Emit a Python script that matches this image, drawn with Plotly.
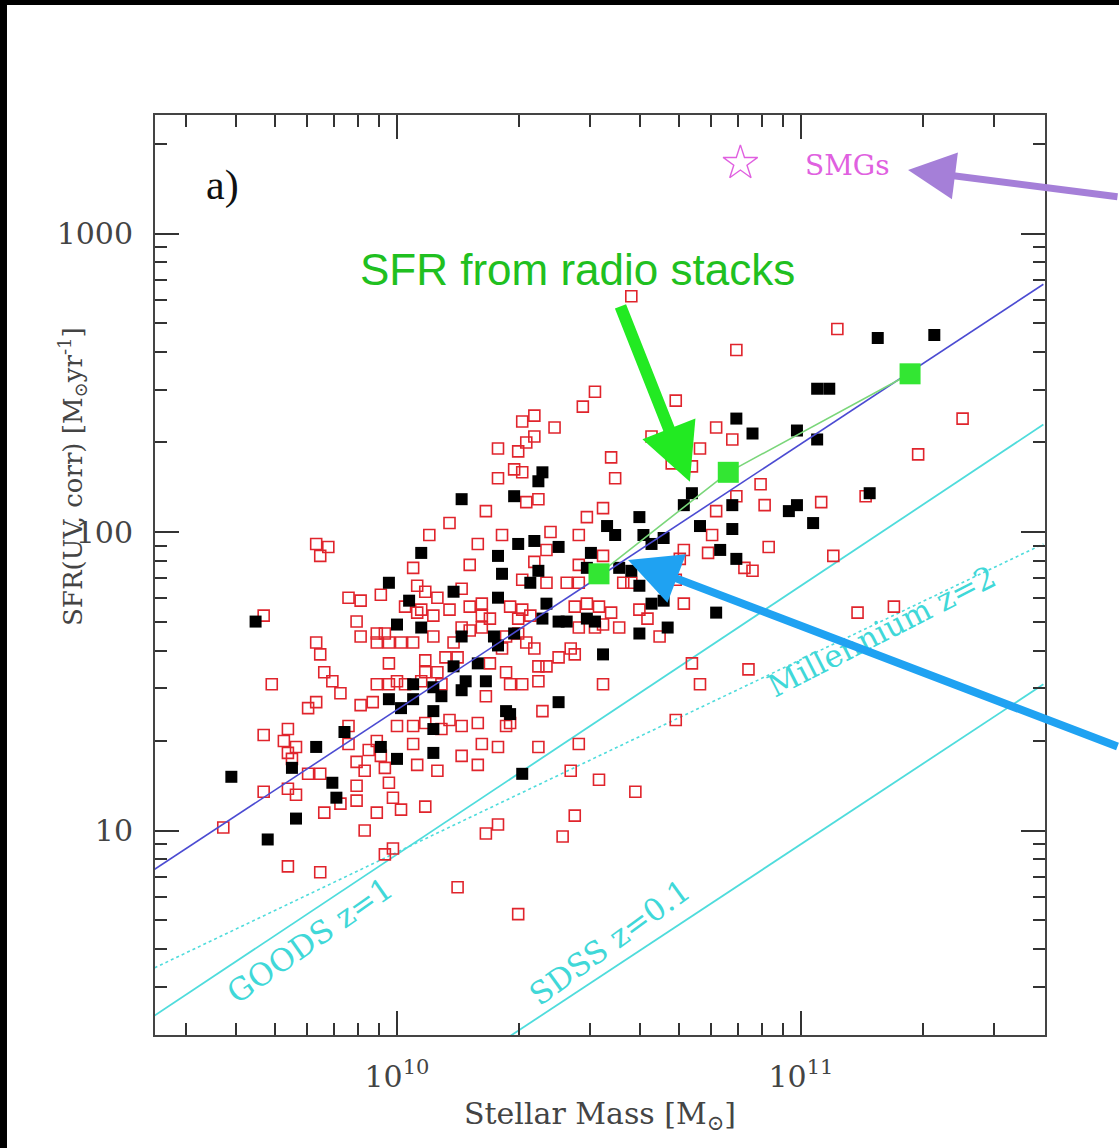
import plotly.graph_objects as go

# ---- data (log10 values) ----
RED_LOGM = [10.49, 10.46, 10.69, 10.34, 10.31, 10.39, 10.34, 10.32, 10.25, 10.30,
            10.53, 10.63, 10.79, 10.83, 10.75, 10.68, 10.73, 10.25, 10.29, 10.31,
            10.54, 10.90, 10.84, 10.91, 10.32, 10.35, 10.22, 10.51, 10.47, 10.79,
            10.13, 10.08, 10.26, 10.38, 10.45, 10.20, 10.37, 10.78, 10.92, 10.71,
            10.77, 10.51, 10.45, 10.18, 10.34, 10.70, 10.86, 10.88, 10.56, 10.58,
            10.69, 10.42, 10.45, 10.31, 10.37, 10.16, 10.07, 10.10, 10.21, 10.18,
            10.28, 10.31, 10.44, 10.47, 10.50, 10.53, 10.60, 10.62, 10.71, 10.06,
            10.13, 10.09, 10.21, 10.23, 10.30, 10.33, 10.51, 10.55, 10.45, 10.30,
            10.27, 10.21, 10.18, 10.16, 10.09, 10.14, 10.49, 10.65, 10.32, 10.34,
            10.26, 10.43, 10.44, 10.40, 10.07, 10.12, 10.15, 10.23, 10.35, 10.37,
            10.27, 10.10, 10.07, 10.73, 10.87, 9.99, 9.97, 10.15, 10.30, 10.22,
            10.25, 10.41, 10.44, 10.43, 10.50, 10.59, 10.45, 10.35, 10.69, 10.25,
            10.21, 10.16, 10.20, 10.10, 10.05, 10.04, 9.98, 9.99, 10.01, 10.07,
            10.00, 10.04, 10.07, 10.11, 10.13, 10.20, 10.27, 10.28, 10.36, 10.22,
            10.28, 10.31, 10.35, 10.51, 10.75, 10.16, 10.11, 10.00, 10.02, 10.06,
            9.96, 9.97, 9.80, 9.83, 9.81, 10.04, 9.67, 9.90, 9.88, 9.91,
            9.96, 10.05, 10.02, 10.05, 9.91, 9.95, 9.97, 9.95, 9.98, 10.01,
            10.04, 9.80, 9.81, 9.98, 9.82, 9.84, 9.69, 9.86, 9.95, 9.98,
            9.91, 9.94, 9.78, 9.80, 9.88, 9.73, 9.72, 9.75, 9.73, 9.74,
            9.67, 9.88, 9.93, 9.95, 9.90, 9.92, 9.78, 9.81, 9.67, 9.73,
            9.75, 9.90, 9.90, 9.86, 9.82, 9.95, 9.57, 9.92, 9.73, 9.81,
            11.40, 11.29, 11.05, 11.16, 11.08, 11.14, 11.23, 11.09, 10.84, 10.58]
RED_LOGSFR = [2.47, 2.42, 2.44, 2.39, 2.37, 2.35, 2.32, 2.30, 2.28, 2.27,
              2.25, 2.32, 2.35, 2.31, 2.28, 2.23, 2.22, 2.18, 2.21, 2.20,
              2.18, 2.16, 2.12, 2.09, 2.10, 2.11, 2.07, 2.08, 2.05, 2.07,
              2.03, 1.99, 1.99, 2.00, 1.99, 1.96, 1.94, 1.99, 1.95, 1.94,
              1.93, 1.92, 1.89, 1.89, 1.90, 1.91, 1.88, 1.87, 1.83, 1.83,
              1.84, 1.83, 1.83, 1.84, 1.83, 1.81, 1.80, 1.78, 1.76, 1.75,
              1.75, 1.74, 1.75, 1.76, 1.75, 1.73, 1.74, 1.71, 1.76, 1.74,
              1.74, 1.72, 1.72, 1.71, 1.71, 1.72, 1.69, 1.68, 1.68, 1.66,
              1.65, 1.68, 1.67, 1.68, 1.65, 1.63, 1.68, 1.65, 1.63, 1.61,
              1.61, 1.61, 1.59, 1.58, 1.57, 1.58, 1.58, 1.56, 1.55, 1.55,
              1.53, 1.53, 1.53, 1.56, 1.54, 0.94, 0.92, 0.81, 0.72, 0.99,
              1.02, 0.98, 1.05, 1.20, 1.17, 1.13, 1.29, 1.28, 1.37, 1.28,
              1.29, 1.25, 1.22, 1.20, 1.22, 1.29, 1.16, 1.11, 1.07, 1.08,
              1.35, 1.35, 1.36, 1.34, 1.37, 1.36, 1.35, 1.36, 1.40, 1.45,
              1.49, 1.49, 1.50, 1.49, 1.49, 1.35, 1.49, 1.50, 1.49, 1.50,
              1.25, 1.21, 1.96, 1.95, 1.92, 1.88, 1.72, 1.70, 1.78, 1.77,
              1.79, 1.82, 1.75, 1.73, 1.65, 1.66, 1.66, 1.63, 1.63, 1.63,
              1.63, 1.63, 1.59, 1.56, 1.53, 1.50, 1.49, 1.46, 1.49, 1.49,
              1.42, 1.43, 1.41, 1.43, 1.35, 1.34, 1.30, 1.28, 1.26, 1.24,
              1.32, 1.29, 1.27, 1.30, 1.23, 1.20, 1.19, 1.19, 1.13, 1.14,
              1.12, 1.15, 1.10, 1.09, 1.06, 1.06, 1.01, 1.00, 0.88, 0.86,
              2.38, 2.26, 2.10, 2.12, 1.92, 1.73, 1.75, 2.68, 2.61, 2.79]

BLK_LOGM = [11.04, 11.07, 10.84, 10.88, 10.99, 11.04, 10.36, 10.35, 10.29, 10.16,
            10.73, 10.71, 10.83, 10.97, 10.99, 11.03, 10.75, 10.83, 10.60, 10.52,
            10.54, 10.61, 10.63, 10.66, 10.30, 10.34, 10.40, 10.48, 10.06, 10.25,
            10.84, 10.80, 10.55, 10.58, 10.47, 10.26, 10.35, 10.33, 10.14, 10.25,
            10.37, 10.60, 10.63, 10.66, 10.79, 10.67, 10.60, 10.36, 10.40, 10.42,
            10.47, 10.49, 10.06, 10.16, 10.24, 10.25, 10.29, 10.20, 10.14, 10.51,
            10.09, 10.17, 10.16, 10.11, 10.22, 10.40, 10.09, 10.27, 10.28, 10.09,
            10.09, 10.00, 9.96, 9.98, 10.01, 10.04, 10.04, 10.31, 9.98, 10.03,
            10.00, 9.65, 9.87, 9.80, 9.74, 9.84, 9.85, 9.59, 9.75, 9.68,
            11.17, 11.19, 11.33]
BLK_LOGSFR = [2.48, 2.48, 2.38, 2.33, 2.34, 2.31, 2.20, 2.17, 2.12, 2.11,
              2.13, 2.09, 2.09, 2.07, 2.09, 2.03, 2.02, 2.01, 2.05, 2.02,
              1.99, 1.99, 1.96, 1.98, 1.96, 1.97, 1.95, 1.93, 1.93, 1.92,
              1.91, 1.94, 1.88, 1.87, 1.88, 1.86, 1.87, 1.83, 1.80, 1.78,
              1.76, 1.82, 1.76, 1.77, 1.73, 1.68, 1.66, 1.71, 1.70, 1.70,
              1.71, 1.70, 1.68, 1.65, 1.65, 1.62, 1.66, 1.56, 1.55, 1.59,
              1.48, 1.50, 1.47, 1.45, 1.50, 1.43, 1.40, 1.40, 1.39, 1.34,
              1.26, 1.24, 1.28, 1.44, 1.41, 1.44, 1.49, 1.19, 1.83, 1.77,
              1.69, 1.70, 1.33, 1.28, 1.21, 1.16, 1.11, 1.18, 1.04, 0.97,
              2.13, 2.65, 2.66]

STACK_LOGM = [10.50, 10.82, 11.27]
STACK_LOGSFR = [1.86, 2.20, 2.53]

MS_LOGM = [9.40, 11.60]
MS_LOGSFR = [0.87, 2.83]
GOODS_LOGM = [9.40, 11.60]
GOODS_LOGSFR = [0.38, 2.36]
MILL_LOGM = [9.40, 11.60]
MILL_LOGSFR = [0.54, 1.96]
SDSS_LOGM = [10.20, 11.60]
SDSS_LOGSFR = [0.24, 1.49]

SMG_LOGM = [10.85]
SMG_LOGSFR = [3.236]

X_TICKS = [1e10, 1e11]
X_TICK_TEXT = ["10<sup>10</sup>", "10<sup>11</sup>"]
X_MINOR = [3e9, 4e9, 5e9, 6e9, 7e9, 8e9, 9e9,
           2e10, 3e10, 4e10, 5e10, 6e10, 7e10, 8e10, 9e10, 2e11, 3e11]
Y_TICKS = [10, 100, 1000]
Y_TICK_TEXT = ["10", "100", "1000"]
Y_MINOR = [3, 4, 5, 6, 7, 8, 9, 20, 30, 40, 50, 60, 70, 80, 90,
           200, 300, 400, 500, 600, 700, 800, 900, 2000]


def pw(v):
    return [10 ** a for a in v]


CYAN = "#4fdcdc"
SERIF = "DejaVu Serif"

fig = go.Figure()

fig.add_trace(go.Scatter(x=pw(GOODS_LOGM), y=pw(GOODS_LOGSFR), mode="lines",
                         line=dict(color=CYAN, width=1.8), hoverinfo="skip"))
fig.add_trace(go.Scatter(x=pw(SDSS_LOGM), y=pw(SDSS_LOGSFR), mode="lines",
                         line=dict(color=CYAN, width=1.8), hoverinfo="skip"))
fig.add_trace(go.Scatter(x=pw(MILL_LOGM), y=pw(MILL_LOGSFR), mode="lines",
                         line=dict(color=CYAN, width=1.6, dash="dot"), hoverinfo="skip"))

fig.add_trace(go.Scatter(x=pw(RED_LOGM), y=pw(RED_LOGSFR), mode="markers",
                         marker=dict(symbol="square-open", size=11, color="#e0242c",
                                     line=dict(width=1.6, color="#e0242c"))))
fig.add_trace(go.Scatter(x=pw(BLK_LOGM), y=pw(BLK_LOGSFR), mode="markers",
                         marker=dict(symbol="square", size=12, color="black",
                                     line=dict(width=0))))

fig.add_trace(go.Scatter(x=pw(MS_LOGM), y=pw(MS_LOGSFR), mode="lines",
                         line=dict(color="#4b4bd2", width=1.6)))
fig.add_trace(go.Scatter(x=pw(STACK_LOGM), y=pw(STACK_LOGSFR), mode="lines",
                         line=dict(color="#7ad67a", width=1.6)))
fig.add_trace(go.Scatter(x=pw(STACK_LOGM), y=pw(STACK_LOGSFR), mode="markers",
                         marker=dict(symbol="square", size=21, color="#33e633",
                                     line=dict(width=0))))
fig.add_trace(go.Scatter(x=pw(SMG_LOGM), y=pw(SMG_LOGSFR), mode="markers",
                         marker=dict(symbol="star-open", size=26, color="#e060e0",
                                     line=dict(width=1.4, color="#e060e0"))))

axis_common = dict(
    type="log", showgrid=False, zeroline=False,
    showline=True, linecolor="#444", linewidth=2, mirror="ticks",
    ticks="inside", ticklen=24, tickwidth=1.5, tickcolor="#333",
    tickfont=dict(family=SERIF, size=30, color="#444"),
    ticklabelstandoff=14,
)

fig.update_xaxes(range=[9.401, 11.604], tickmode="array", tickvals=X_TICKS,
                 ticktext=X_TICK_TEXT,
                 minor=dict(tickmode="array", tickvals=X_MINOR, ticks="inside",
                            ticklen=12, tickwidth=1.5, tickcolor="#333", showgrid=False),
                 **axis_common)
fig.update_yaxes(range=[0.315, 3.397], tickmode="array", tickvals=Y_TICKS,
                 ticktext=Y_TICK_TEXT,
                 minor=dict(tickmode="array", tickvals=Y_MINOR, ticks="inside",
                            ticklen=12, tickwidth=1.5, tickcolor="#333", showgrid=False),
                 **axis_common)

ann = []
# panel letter
ann.append(dict(x=9.567, y=3.162, xref="x", yref="y", text="a)", showarrow=False,
                font=dict(family="Liberation Serif", size=42, color="#111")))
ann.append(dict(x=11.116, y=3.229, xref="x", yref="y", text="SMGs", showarrow=False,
                font=dict(family=SERIF, size=28, color="#e060e0")))
ann.append(dict(x=10.448, y=2.878, xref="x", yref="y", text="SFR from radio stacks",
                showarrow=False,
                font=dict(family="Liberation Sans", size=44, color="#20c020")))
ann.append(dict(x=9.785, y=0.633, xref="x", yref="y", text="GOODS z=1", showarrow=False,
                textangle=-35, font=dict(family=SERIF, size=31, color="#40d8d8")))
ann.append(dict(x=10.527, y=0.626, xref="x", yref="y", text="SDSS z=0.1", showarrow=False,
                textangle=-36, font=dict(family=SERIF, size=31, color="#40d8d8")))
ann.append(dict(x=11.200, y=1.668, xref="x", yref="y", text="Millennium z=2",
                showarrow=False, textangle=-27,
                font=dict(family=SERIF, size=31, color="#40d8d8")))
# axis titles
ann.append(dict(x=0.5, y=-0.087, xref="paper", yref="paper",
                xanchor="center", yanchor="middle",
                text="Stellar Mass [M<sub>⊙</sub>]", showarrow=False,
                font=dict(family=SERIF, size=30, color="#444")))
ann.append(dict(x=-0.0933, y=0.6076, xref="paper", yref="paper", textangle=-90,
                xanchor="center", yanchor="middle",
                text="SFR(UV, corr) [M<sub>⊙</sub>yr<sup>-1</sup>]", showarrow=False,
                font=dict(family=SERIF, size=26, color="#444")))
# arrows
ann.append(dict(x=10.725, y=2.168, xref="x", yref="y", ax=-70, ay=-177,
                axref="pixel", ayref="pixel", text="", showarrow=True,
                arrowhead=2, arrowsize=0.95, arrowwidth=12, arrowcolor="#22ea22"))
ann.append(dict(x=10.572, y=1.906, xref="x", yref="y", ax=495, ay=187,
                axref="pixel", ayref="pixel", text="", showarrow=True,
                arrowhead=2, arrowsize=1.3, arrowwidth=8, arrowcolor="#1fa2f2"))
ann.append(dict(x=11.265, y=3.213, xref="x", yref="y", ax=215, ay=27,
                axref="pixel", ayref="pixel", text="", showarrow=True,
                arrowhead=2, arrowsize=1.35, arrowwidth=7, arrowcolor="#a57fd8"))

shapes = [
    dict(type="rect", xref="paper", yref="paper", x0=-0.2, x1=1.2, y0=1.1196, y1=1.2,
         fillcolor="black", line=dict(width=0), layer="above"),
    dict(type="rect", xref="paper", yref="paper", x0=-0.2, x1=-0.1663, y0=-0.2, y1=1.2,
         fillcolor="black", line=dict(width=0), layer="above"),
]

fig.update_layout(
    width=1119, height=1148, autosize=False,
    margin=dict(l=155, r=74, t=115, b=113, pad=0),
    paper_bgcolor="white", plot_bgcolor="white",
    showlegend=False, annotations=ann, shapes=shapes,
)

fig.write_html("out.html")
